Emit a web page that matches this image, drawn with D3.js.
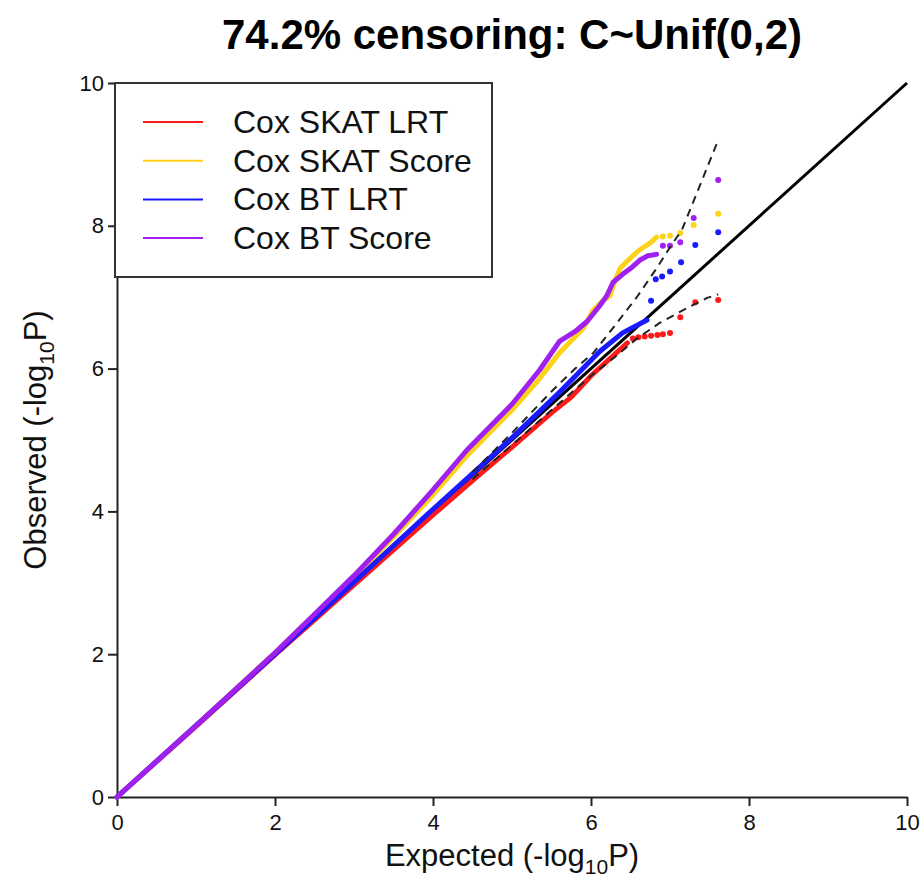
<!DOCTYPE html>
<html>
<head>
<meta charset="utf-8">
<script src="https://cdn.jsdelivr.net/npm/d3@7/dist/d3.min.js"></script>
<style>
  body { margin: 0; background: #fff; }
  text { font-family: "Liberation Sans", Arial, sans-serif; }
</style>
</head>
<body>
<svg id="chart" width="924" height="884"></svg>
<script>
// values: [expected, observed] in -log10 P
const xTicks = [0, 2, 4, 6, 8, 10]
const yTicks = [0, 2, 4, 6, 8, 10]
const seriesNames = ['Cox SKAT LRT', 'Cox SKAT Score', 'Cox BT LRT', 'Cox BT Score']
const seriesColors = ['#ff1a1a', '#ffd21a', '#1a1aff', '#a020f0']

const skatLrtCurve = [[0, 0], [1, 0.99], [2, 1.99], [3, 2.97], [4, 3.95], [4.5, 4.43], [5, 4.9], [5.5, 5.38], [5.75, 5.6], [6, 5.9], [6.24, 6.14], [6.46, 6.36]]
const skatLrtTail = [[6.53, 6.42], [6.6, 6.44], [6.68, 6.45], [6.76, 6.46], [6.84, 6.47], [6.91, 6.48], [7.0, 6.5], [7.13, 6.72], [7.32, 6.93], [7.61, 6.96]]

const skatScoreCurve = [[0, 0], [1, 1.0], [2, 2.02], [2.5, 2.55], [3, 3.08], [3.5, 3.64], [4, 4.23], [4.43, 4.78], [5, 5.42], [5.35, 5.86], [5.6, 6.22], [5.9, 6.56], [6.03, 6.82], [6.15, 6.95], [6.24, 7.02], [6.3, 7.22], [6.37, 7.41], [6.5, 7.55], [6.6, 7.65], [6.75, 7.76], [6.83, 7.84]]
const skatScoreTail = [[6.91, 7.85], [7.0, 7.86], [7.13, 7.9], [7.3, 8.01], [7.61, 8.17]]

const btLrtCurve = [[0, 0], [1, 1.0], [2, 2.0], [3, 3.01], [4, 4.03], [5, 5.03], [5.61, 5.68], [6.11, 6.24], [6.4, 6.5], [6.71, 6.68]]
const btLrtTail = [[6.76, 6.95], [6.82, 7.25], [6.9, 7.29], [7.0, 7.36], [7.14, 7.49], [7.32, 7.73], [7.61, 7.91]]

const btScoreCurve = [[0, 0], [1, 1.0], [2, 2.02], [2.5, 2.56], [3, 3.1], [3.5, 3.68], [4, 4.3], [4.43, 4.86], [5, 5.5], [5.35, 5.98], [5.6, 6.38], [5.8, 6.52], [5.95, 6.66], [6.11, 6.88], [6.2, 7.02], [6.28, 7.21], [6.4, 7.32], [6.52, 7.42], [6.62, 7.52], [6.72, 7.58], [6.83, 7.6]]
const btScoreTail = [[6.91, 7.72], [7.0, 7.72], [7.13, 7.77], [7.3, 8.11], [7.61, 8.64]]

const diagonal = [[0, 0], [10, 10]]
const upperBand = [[4.5, 4.55], [5.0, 5.1], [5.5, 5.68], [5.8, 6.0], [6.03, 6.22], [6.3, 6.6], [6.58, 7.0], [6.84, 7.42], [7.0, 7.7], [7.15, 7.94], [7.3, 8.35], [7.61, 9.2]]
const lowerBand = [[4.5, 4.45], [5.0, 4.93], [5.5, 5.42], [6.0, 5.9], [6.3, 6.16], [6.58, 6.42], [6.87, 6.64], [7.22, 6.85], [7.47, 6.99], [7.61, 7.04]]

const svg = d3.select('#chart')
const padding = { left: 117, top: 83, right: 17, bottom: 87 }
const width = 924 - padding.left - padding.right
const height = 884 - padding.top - padding.bottom

const xScale = d3.scaleLinear().domain([0, 10]).range([0, width])
const yScale = d3.scaleLinear().domain([0, 10]).range([height, 0])

const g = svg.append('g')
  .attr('transform', 'translate(' + padding.left + ',' + padding.top + ')')

const line = d3.line()
  .x(d => xScale(d[0]))
  .y(d => yScale(d[1]))

// axes, R style
const xAxis = g.append('g')
  .attr('transform', 'translate(0,' + height + ')')
  .call(d3.axisBottom(xScale).tickValues(xTicks).tickSize(9).tickSizeOuter(0).tickPadding(8))
const yAxis = g.append('g')
  .call(d3.axisLeft(yScale).tickValues(yTicks).tickSize(9).tickSizeOuter(0).tickPadding(4))

;[xAxis, yAxis].forEach(ax => {
  ax.select('.domain').attr('stroke', '#222').attr('stroke-width', 2)
  ax.selectAll('.tick line').attr('stroke', '#222').attr('stroke-width', 2)
  ax.selectAll('.tick text')
    .attr('font-size', 22)
    .attr('fill', '#111')
    .style('font-family', '"Liberation Sans", Arial, sans-serif')
})

// reference line under the curves
g.append('path')
  .datum(diagonal)
  .attr('d', line)
  .attr('stroke', '#000')
  .attr('stroke-width', 3)

// curves first, then point tails
const curves = [skatLrtCurve, skatScoreCurve, btLrtCurve, btScoreCurve]
const tails = [skatLrtTail, skatScoreTail, btLrtTail, btScoreTail]

curves.forEach((c, i) => {
  g.append('path')
    .datum(c)
    .attr('d', line)
    .attr('fill', 'none')
    .attr('stroke', seriesColors[i])
    .attr('stroke-width', 5)
    .attr('stroke-linejoin', 'round')
    .attr('stroke-linecap', 'round')
})

tails.forEach((t, i) => {
  g.selectAll(null)
    .data(t)
    .enter()
    .append('circle')
    .attr('cx', d => xScale(d[0]))
    .attr('cy', d => yScale(d[1]))
    .attr('r', 3)
    .attr('fill', seriesColors[i])
})

// confidence band
;[upperBand, lowerBand].forEach(b => {
  g.append('path')
    .datum(b)
    .attr('d', line)
    .attr('fill', 'none')
    .attr('stroke', '#222')
    .attr('stroke-width', 2)
    .attr('stroke-dasharray', '8,6')
})

// legend
const legend = svg.append('g')
legend.append('rect')
  .attr('x', 115)
  .attr('y', 83)
  .attr('width', 377)
  .attr('height', 194)
  .attr('fill', '#fff')
  .attr('stroke', '#333')
  .attr('stroke-width', 2)

seriesNames.forEach((name, i) => {
  const y = 122 + i * 38.7
  legend.append('line')
    .attr('x1', 143).attr('x2', 203)
    .attr('y1', y).attr('y2', y)
    .attr('stroke', seriesColors[i])
    .attr('stroke-width', 2)
  legend.append('text')
    .attr('x', 233)
    .attr('y', y + 11)
    .attr('font-size', 32)
    .attr('fill', '#111')
    .text(name)
})

// titles
svg.append('text')
  .attr('x', 512)
  .attr('y', 49)
  .attr('text-anchor', 'middle')
  .attr('font-size', 42)
  .attr('font-weight', 'bold')
  .text('74.2% censoring: C~Unif(0,2)')

const xLabel = svg.append('text')
  .attr('x', 512)
  .attr('y', 866)
  .attr('text-anchor', 'middle')
  .attr('font-size', 31)
  .attr('fill', '#111')
xLabel.append('tspan').text('Expected (-log')
xLabel.append('tspan').attr('font-size', 21).attr('dy', 8).text('10')
xLabel.append('tspan').attr('dy', -8).text('P)')

const yLabel = svg.append('text')
  .attr('transform', 'translate(46,440) rotate(-90)')
  .attr('text-anchor', 'middle')
  .attr('font-size', 31)
  .attr('fill', '#111')
yLabel.append('tspan').text('Observed (-log')
yLabel.append('tspan').attr('font-size', 21).attr('dy', 8).text('10')
yLabel.append('tspan').attr('dy', -8).text('P)')
</script>
</body>
</html>
